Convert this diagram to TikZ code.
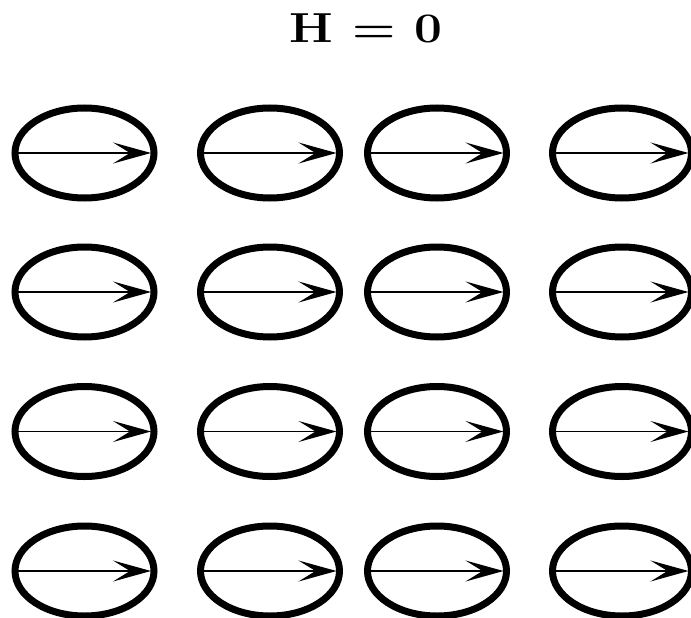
\documentclass[tikz,border=0pt]{standalone}
\usepackage{fontspec}
\usetikzlibrary{shapes.geometric,arrows.meta}
\begin{document}
\begin{tikzpicture}[x=1pt,y=-1pt,
  spinring/.style={draw=black,ellipse,line width=7pt,minimum width=139pt,minimum height=90pt,inner sep=0pt,outer sep=0pt},
  spinarrow/.style={line width=1.5pt,-{Stealth[length=38pt,width=21pt,inset=17pt]}},
  titletext/.style={anchor=base,inner sep=0pt,font=\fontsize{42}{42}\selectfont\bfseries}]
\useasboundingbox (0,0) rectangle (691,618);
\node[titletext] (title) at (366,43) {\scalebox{1.18}[1]{H = 0}};
\foreach \c/\x in {1/84.5,2/270,3/437,4/622}{
  \foreach \r/\y in {1/153,2/292,3/431.5,4/571}{
    \node[spinring] (e\r\c) at (\x,\y) {};
    \draw[spinarrow] ([xshift=3pt]e\r\c.west) -- ([xshift=-3pt]e\r\c.east);
  }
}
\end{tikzpicture}
\end{document}
